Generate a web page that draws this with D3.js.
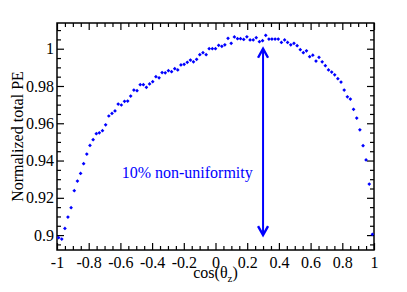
<!DOCTYPE html>
<html>
<head>
    <meta charset="UTF-8">
    <title>Normalized total PE vs cos(theta_z)</title>
    <script src="https://cdn.jsdelivr.net/npm/d3@7/dist/d3.min.js"></script>
    <style>
        body { margin: 0; background: #fff; }
        text { font-family: "Liberation Serif", "DejaVu Serif", serif; }
    </style>
</head>
<body>
<svg id="chart"></svg>
<script>

    // cos(theta_z) bin centres
    const cosTheta = [
        -0.990, -0.970, -0.950, -0.931, -0.911, -0.891, -0.871, -0.851, -0.832, -0.812,
        -0.792, -0.772, -0.752, -0.733, -0.713, -0.693, -0.673, -0.653, -0.634, -0.614,
        -0.594, -0.574, -0.554, -0.535, -0.515, -0.495, -0.475, -0.455, -0.436, -0.416,
        -0.396, -0.376, -0.356, -0.337, -0.317, -0.297, -0.277, -0.257, -0.238, -0.218,
        -0.198, -0.178, -0.158, -0.139, -0.119, -0.099, -0.079, -0.059, -0.040, -0.020,
        0.000,
        0.020, 0.040, 0.059, 0.079, 0.099, 0.119, 0.139, 0.158, 0.178, 0.198,
        0.218, 0.238, 0.257, 0.277, 0.297, 0.317, 0.337, 0.356, 0.376, 0.396,
        0.416, 0.436, 0.455, 0.475, 0.495, 0.515, 0.535, 0.554, 0.574, 0.594,
        0.614, 0.634, 0.653, 0.673, 0.693, 0.713, 0.733, 0.752, 0.772, 0.792,
        0.812, 0.832, 0.851, 0.871, 0.891, 0.911, 0.931, 0.950, 0.970, 0.990
    ];

    // normalized total PE
    const totalPE = [
        0.8986, 0.8979, 0.9036, 0.9097, 0.9147, 0.9238, 0.9290, 0.9331, 0.9383, 0.9435,
        0.9481, 0.9512, 0.9544, 0.9549, 0.9560, 0.9592, 0.9639, 0.9653, 0.9666, 0.9703,
        0.9698, 0.9718, 0.9719, 0.9746, 0.9778, 0.9775, 0.9807, 0.9807, 0.9793, 0.9811,
        0.9823, 0.9850, 0.9844, 0.9872, 0.9871, 0.9882, 0.9877, 0.9893, 0.9886, 0.9913,
        0.9916, 0.9927, 0.9939, 0.9930, 0.9943, 0.9968, 0.9979, 0.9968, 1.0000, 1.0000,
        1.0000,
        1.0018, 1.0013, 1.0021, 1.0056, 1.0029, 1.0063, 1.0054, 1.0054, 1.0050, 1.0064,
        1.0047, 1.0047, 1.0059, 1.0038, 1.0043, 1.0072, 1.0052, 1.0052, 1.0052, 1.0052,
        1.0034, 1.0047, 1.0034, 1.0021, 1.0029, 1.0016, 0.9995, 0.9979, 0.9989, 0.9957,
        0.9965, 0.9934, 0.9954, 0.9930, 0.9909, 0.9886, 0.9875, 0.9860, 0.9839, 0.9821,
        0.9778, 0.9742, 0.9730, 0.9675, 0.9628, 0.9565, 0.9480, 0.9403, 0.9274, 0.9004
    ];

    const xTicks = [-1, -0.8, -0.6, -0.4, -0.2, 0, 0.2, 0.4, 0.6, 0.8, 1];
    const xTickLabels = ["-1", "-0.8", "-0.6", "-0.4", "-0.2", "0", "0.2", "0.4", "0.6", "0.8", "1"];
    const yTicks = [0.9, 0.92, 0.94, 0.96, 0.98, 1];
    const yTickLabels = ["0.9", "0.92", "0.94", "0.96", "0.98", "1"];

    // the double arrow and its note
    const arrowX = 0.3;
    const arrowFrom = 0.9;
    const arrowTo = 1.0;
    const noteText = "10% non-uniformity";
    const noteX = -0.592;
    const noteY = 0.9306;

    const width = 407,
        height = 292,
        margin = {top: 23, right: 33, bottom: 42, left: 57};
    const innerW = width - margin.left - margin.right,
        innerH = height - margin.top - margin.bottom;
    const blue = "#0000ff";

    const svg = d3.select("#chart")
        .attr("width", width)
        .attr("height", height);

    const g = svg.append("g")
        .attr("transform", `translate(${margin.left},${margin.top})`);

    const x = d3.scaleLinear().domain([-1, 1]).range([0, innerW]);
    const y = d3.scaleLinear().domain([0.892, 1.0138]).range([innerH, 0]);

    // minor tick positions
    const xMinor = d3.range(-1, 1.0001, 0.05).filter(v => Math.abs(Math.round(v * 5) - v * 5) > 1e-6);
    const yMinor = d3.range(0.895, 1.0126, 0.005).filter(v => Math.abs(Math.round(v * 50) - v * 50) > 1e-6);

    function styleAxis(sel) {
        sel.select(".domain").remove();
        sel.selectAll("line").attr("stroke", "#000").attr("stroke-width", 1.2);
        sel.selectAll("text")
            .attr("fill", "#000")
            .style("font-family", "'Liberation Serif', 'DejaVu Serif', serif")
            .style("font-size", "16px");
    }

    // bottom
    g.append("g").attr("transform", `translate(0,${innerH})`)
        .call(d3.axisBottom(x).tickValues(xTicks).tickSize(-7).tickPadding(7)
            .tickFormat((d, i) => xTickLabels[i]))
        .call(styleAxis);
    g.append("g").attr("transform", `translate(0,${innerH})`)
        .call(d3.axisBottom(x).tickValues(xMinor).tickSize(-4).tickFormat(""))
        .call(styleAxis);
    // top
    g.append("g")
        .call(d3.axisTop(x).tickValues(xTicks).tickSize(-7).tickFormat(""))
        .call(styleAxis);
    g.append("g")
        .call(d3.axisTop(x).tickValues(xMinor).tickSize(-4).tickFormat(""))
        .call(styleAxis);
    // left
    g.append("g")
        .call(d3.axisLeft(y).tickValues(yTicks).tickSize(-7).tickPadding(3)
            .tickFormat((d, i) => yTickLabels[i]))
        .call(styleAxis);
    g.append("g")
        .call(d3.axisLeft(y).tickValues(yMinor).tickSize(-4).tickFormat(""))
        .call(styleAxis);
    // right
    g.append("g").attr("transform", `translate(${innerW},0)`)
        .call(d3.axisRight(y).tickValues(yTicks).tickSize(-7).tickFormat(""))
        .call(styleAxis);
    g.append("g").attr("transform", `translate(${innerW},0)`)
        .call(d3.axisRight(y).tickValues(yMinor).tickSize(-4).tickFormat(""))
        .call(styleAxis);

    // frame
    g.append("rect")
        .attr("width", innerW)
        .attr("height", innerH)
        .attr("fill", "none")
        .attr("stroke", "#000")
        .attr("stroke-width", 1.5);

    // data points
    const marker = d3.symbol().type(d3.symbolSquare).size(7);
    g.selectAll(".pt")
        .data(cosTheta.map((c, i) => [c, totalPE[i]]))
        .join("path")
        .attr("class", "pt")
        .attr("d", marker)
        .attr("transform", d => `translate(${x(d[0])},${y(d[1])}) rotate(45)`)
        .attr("fill", blue);

    // double headed arrow
    const ax = x(arrowX), yTop = y(arrowTo), yBot = y(arrowFrom);
    g.append("line")
        .attr("x1", ax).attr("x2", ax)
        .attr("y1", yTop + 1).attr("y2", yBot - 1)
        .attr("stroke", blue)
        .attr("stroke-width", 2);
    g.append("path")
        .attr("d", `M${ax - 5},${yTop + 9}L${ax},${yTop}L${ax + 5},${yTop + 9}`)
        .attr("fill", "none").attr("stroke", blue).attr("stroke-width", 2.4);
    g.append("path")
        .attr("d", `M${ax - 5},${yBot - 9}L${ax},${yBot}L${ax + 5},${yBot - 9}`)
        .attr("fill", "none").attr("stroke", blue).attr("stroke-width", 2.4);

    g.append("text")
        .attr("x", x(noteX))
        .attr("y", y(noteY))
        .attr("fill", blue)
        .style("font-size", "16px")
        .text(noteText);

    // axis titles
    const xt = svg.append("text")
        .attr("x", margin.left + innerW / 2)
        .attr("y", 278)
        .attr("text-anchor", "middle")
        .style("font-size", "16px");
    xt.append("tspan").text("cos(\u03B8");
    xt.append("tspan").attr("dy", 4).style("font-size", "11px").text("z");
    xt.append("tspan").attr("dy", -4).text(")");

    svg.append("text")
        .attr("transform", `translate(23,${margin.top + innerH / 2}) rotate(-90)`)
        .attr("text-anchor", "middle")
        .style("font-size", "16px")
        .text("Normalized total PE");

</script>
</body>
</html>
